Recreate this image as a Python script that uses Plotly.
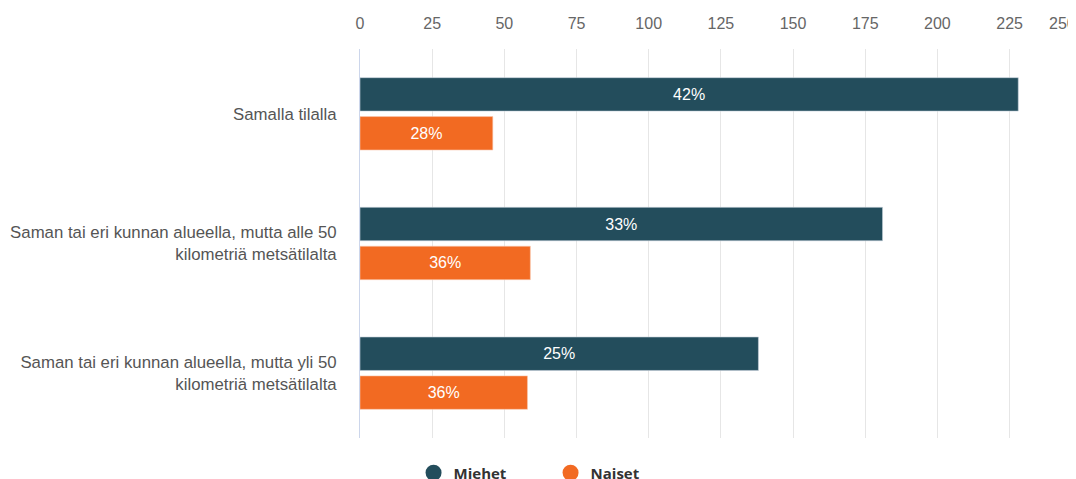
import plotly.graph_objects as go

categories = [
    "Samalla tilalla",
    "Saman tai eri kunnan alueella, mutta alle 50<br>kilometriä metsätilalta",
    "Saman tai eri kunnan alueella, mutta yli 50<br>kilometriä metsätilalta",
]
miehet = [228, 181, 138]
naiset = [46, 59, 58]
miehet_pct = ["42%", "33%", "25%"]
naiset_pct = ["28%", "36%", "36%"]
tick_vals = [0, 25, 50, 75, 100, 125, 150, 175, 200, 225]
last_tick = "250"

C_M = "#234D5C"
C_N = "#F26A22"
FONT = "Liberation Sans, Arial, sans-serif"

fig = go.Figure()
fig.add_trace(go.Bar(
    y=categories, x=miehet, orientation="h", name="Miehet",
    marker=dict(color=C_M, line=dict(color="#c8d2dc", width=0.6)),
    text=miehet_pct, textposition="inside", insidetextanchor="middle",
    textfont=dict(color="#ffffff", size=16, family=FONT),
    showlegend=False, hoverinfo="x+y",
))
fig.add_trace(go.Bar(
    y=categories, x=naiset, orientation="h", name="Naiset",
    marker=dict(color=C_N, line=dict(color="#f8c8b0", width=0.6)),
    text=naiset_pct, textposition="inside", insidetextanchor="middle",
    textfont=dict(color="#ffffff", size=16, family=FONT),
    showlegend=False, hoverinfo="x+y",
))
# legend entries with circle symbols
for nm, col in [("Miehet", C_M), ("Naiset", C_N)]:
    fig.add_trace(go.Scatter(
        x=[None], y=[None], mode="markers", name=nm,
        marker=dict(symbol="circle", size=16, color=col),
        showlegend=True,
    ))

fig.update_layout(
    width=1068, height=471,
    margin=dict(l=352, r=0, t=41, b=41, autoexpand=False),
    paper_bgcolor="#ffffff", plot_bgcolor="#ffffff",
    barmode="group", bargap=0.4, bargroupgap=0.14,
    font=dict(family=FONT, size=16, color="#666666"),
    legend=dict(
        orientation="h", x=0.0748, xanchor="left", y=-0.09, yanchor="middle",
        font=dict(family="Open Sans, Arial, sans-serif", size=15, color="#333333", weight="bold"),
        itemwidth=30, entrywidth=92, bgcolor="rgba(0,0,0,0)",
    ),
    xaxis=dict(
        side="top", range=[0, 248], tickvals=tick_vals,
        showgrid=True, gridcolor="#e6e6e6", gridwidth=1,
        zeroline=False, showline=False, automargin=False,
        ticks="outside", ticklen=13, tickcolor="rgba(0,0,0,0)",
        tickfont=dict(size=16, color="#666666"),
        fixedrange=True,
    ),
    yaxis=dict(
        autorange="reversed", showgrid=False, zeroline=False,
        showline=True, linecolor="#ccd6eb", linewidth=1, automargin=False,
        ticks="outside", ticklen=19, tickcolor="rgba(0,0,0,0)",
        tickfont=dict(size=16.8, color="#555555"),
        fixedrange=True,
    ),
    annotations=[dict(
        text=last_tick, xref="paper", yref="paper", x=0.9898, y=1, yshift=26,
        xshift=-6,
        showarrow=False, xanchor="center", yanchor="middle",
        font=dict(size=16, color="#666666", family=FONT),
    )],
)

fig.write_html("out.html")
